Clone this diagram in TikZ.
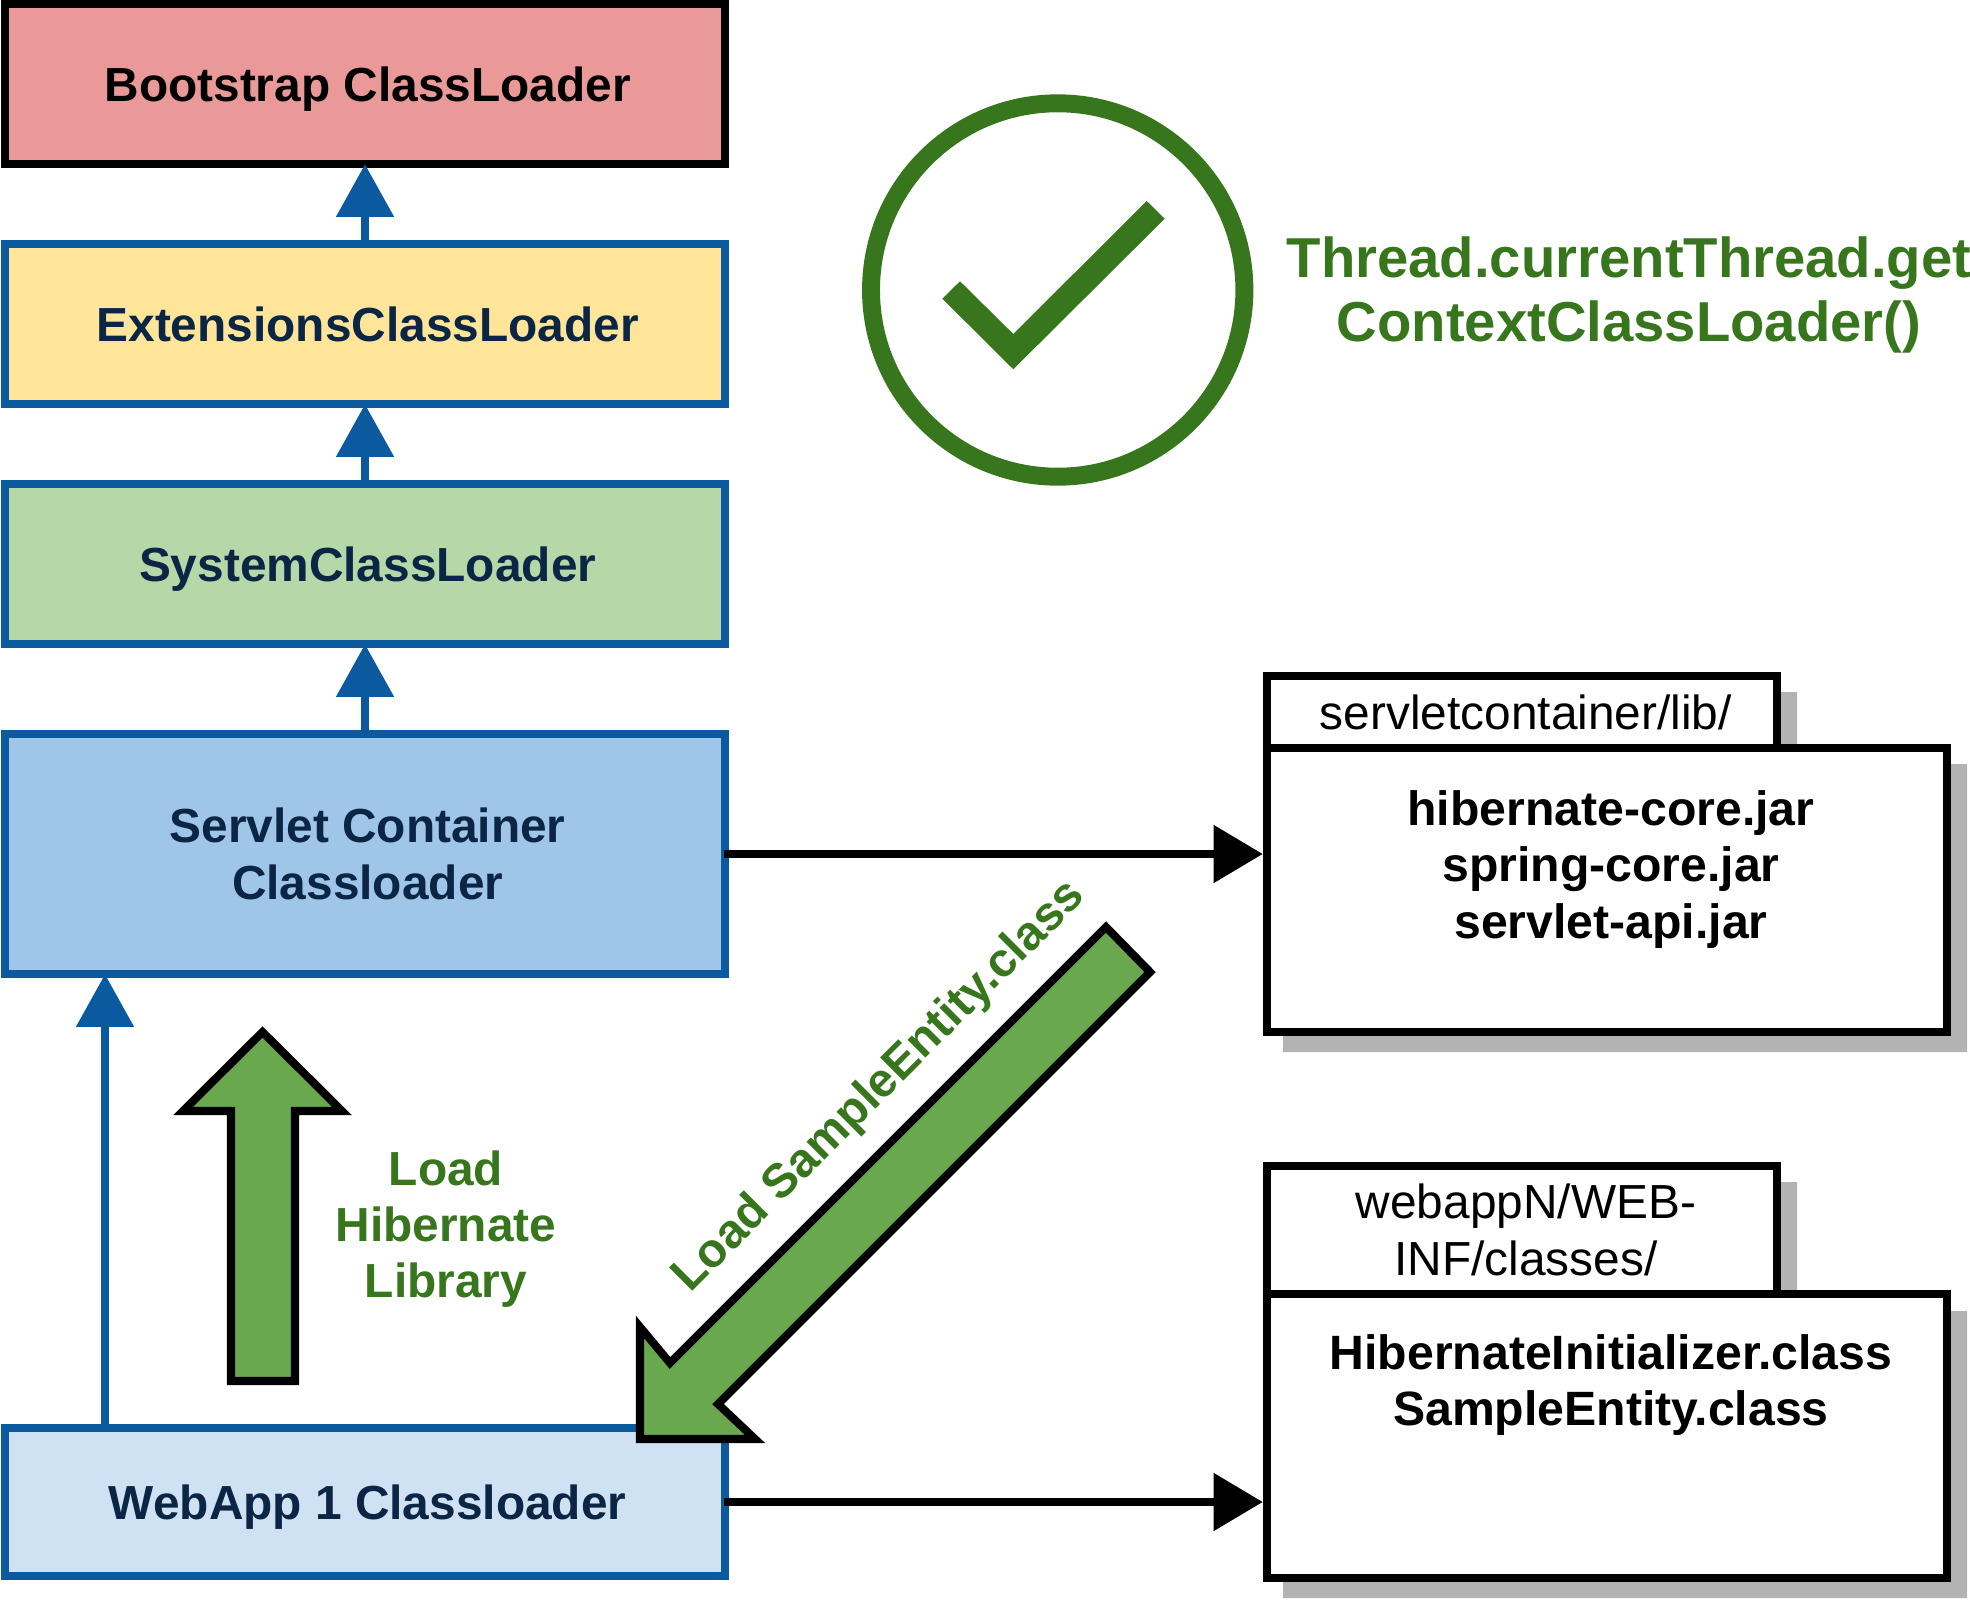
\documentclass[tikz,border=0pt]{standalone}
\usepackage{fontspec}
\setmainfont{Liberation Sans}
\usetikzlibrary{arrows.meta}
\usetikzlibrary{calc, positioning}
\definecolor{blueline}{HTML}{0B5AA0}
\definecolor{navytext}{HTML}{0B2545}
\definecolor{greentext}{HTML}{38761D}
\definecolor{greenfill}{HTML}{6AA84F}
\definecolor{shadowgray}{HTML}{B3B3B3}
\newcommand{\padS}{\hspace*{1.5pt}}
\newcommand{\padL}{\hspace*{2.2pt}}
\tikzset{
	loaderbox/.style={draw=blueline, line width=2.3pt, minimum width=720*0.2845pt, align=center, font=\fontsize{13.6pt}{16pt}\selectfont\bfseries, text=navytext},
	parentarrow/.style={draw=blueline, line width=2.2pt, -{Triangle[length=15pt,width=16pt]}, blueline, shorten >=-1.1pt},
	linkarrow/.style={draw=black, line width=2.2pt, -{Triangle[length=14pt,width=16pt]}, shorten <=-1.4pt},
	tabbox/.style={draw=black, fill=white, line width=2.3pt, minimum width=510*0.2845pt, align=center, font=\fontsize{13.6pt}{16pt}\selectfont},
	folderbox/.style={draw=black, fill=white, line width=2.3pt, minimum width=680*0.2845pt, align=center, font=\fontsize{13.7pt}{16pt}\selectfont\bfseries},
	shade/.style={fill=shadowgray, draw=none},
	block/.style={fill=greenfill, draw=black, line width=2.3pt, miter limit=10},
	greenlabel/.style={text=greentext, align=center, font=\fontsize{13.6pt}{16pt}\selectfont\bfseries}
}
\begin{document}
\begin{tikzpicture}[x=0.01cm, y=-0.01cm]
	\useasboundingbox (0,0) rectangle (1970,1600);
	% class loader stack
	\node [loaderbox, draw=black, fill={rgb,255:red,234;green,153;blue,153}, text=black, text depth=0pt, minimum height=160*0.2845pt] (bootstrap) at (365,84) {\padS Bootstrap ClassLoader};
	\node [loaderbox, fill={rgb,255:red,255;green,229;blue,153}, minimum height=160*0.2845pt] (extensions) at (365,324) {\padS ExtensionsClassLoader};
	\node [loaderbox, fill={rgb,255:red,182;green,215;blue,168}, text depth=0pt, minimum height=160*0.2845pt] (system) at (365,564) {\padS SystemClassLoader};
	\node [loaderbox, fill={rgb,255:red,159;green,197;blue,232}, minimum height=240*0.2845pt] (servlet) at (365,854) {\padS Servlet Container\\\padS Classloader};
	\node [loaderbox, fill={rgb,255:red,207;green,226;blue,243}, text depth=0pt, minimum height=148*0.2845pt] (webapp) at (365,1502) {\padS WebApp 1 Classloader};
	\coordinate (webappleft) at (105,1428);
	\draw [parentarrow] (extensions) -- (bootstrap);
	\draw [parentarrow] (system) -- (extensions);
	\draw [parentarrow] (servlet) -- (system);
	\draw [parentarrow] (webappleft) -- (servlet.south -| webappleft);
	% shadows of the folders
	\fill [shade] (1283,692) rectangle (1797,764) (1283,764) rectangle (1967,1052);
	\fill [shade] (1283,1182) rectangle (1797,1311) (1283,1311) rectangle (1967,1598);
	% folders
	\node [tabbox, minimum height=72*0.2845pt] (libtab) at (1522,712) {\padL servletcontainer/lib/};
	\node [folderbox, minimum height=284*0.2845pt] (libbox) at (1607,890) {\padL hibernate-core.jar\\\padL spring-core.jar\\\padL servlet-api.jar\\[-1.4pt]~};
	\node [tabbox, minimum height=128*0.2845pt] (webtab) at (1522,1230) {\padL webappN/WEB-\\\padL INF/classes/};
	\node [folderbox, minimum height=284*0.2845pt] (webbox) at (1607,1436) {\padL HibernateInitializer.class\\\padL SampleEntity.class\\~\\~};
	\draw [linkarrow] (servlet.east) -- (servlet.east -| libbox.west);
	\draw [linkarrow] (webapp.east) -- (webapp.east -| webbox.west);
	% green block arrows
	\draw [block] (231,1381) -- (231,1111) -- (183,1111) -- (262.5,1032) -- (342,1111) -- (295,1111) -- (295,1381) -- cycle;
	\draw [block] (1106,927) -- (670,1363) -- (640,1327) -- (640,1439) -- (755,1439) -- (718,1404) -- (1150,972) -- cycle;
	\node [greenlabel] (hibernatelabel) at (446,1229) {Load\\Hibernate\\Library};
	\node [greenlabel, rotate=45] (entitylabel) at (880,1087) {Load SampleEntity.class};
	% check mark
	\draw [greentext, line width=5.1pt] (1057.7,290) circle (186.7);
	\fill [greentext] (942.3,298.7) -- (960,281.3) -- (1013.3,334) -- (1146.7,201) -- (1164.7,218.7) -- (1013.3,369.3) -- cycle;
	\node [greenlabel, font=\fontsize{16pt}{18.2pt}\selectfont\bfseries] (contextlabel) at (1629,295) {Thread.currentThread.get\\ContextClassLoader()};
\end{tikzpicture}
\end{document}
